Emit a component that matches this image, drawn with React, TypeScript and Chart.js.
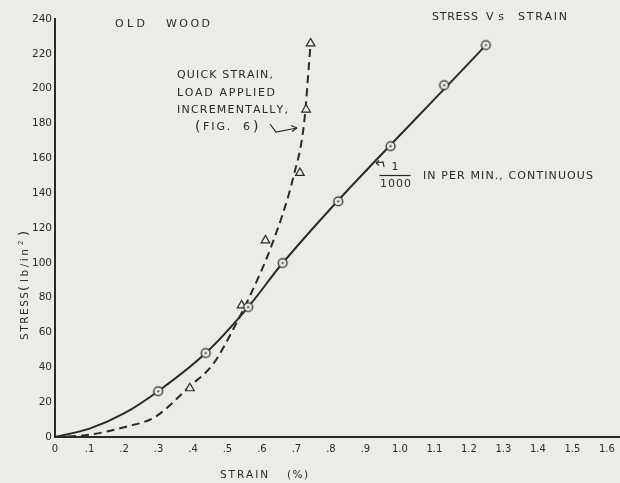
import React, { useEffect, useRef } from 'react';
import { Chart, registerables } from 'chart.js';

Chart.register(...registerables);

// ---- Data ----
// 1/1000 in per min, continuous (solid curve, circle markers)
const contCurveStrain = [0, 0.1, 0.2, 0.299, 0.437, 0.56, 0.66, 1.249];
const contCurveStress = [0, 4.8, 13.5, 26.3, 48.2, 74.6, 99.9, 225];
const contStrain = [0.299, 0.437, 0.56, 0.66, 0.821, 0.973, 1.128, 1.249];
const contStress = [26.3, 48.2, 74.6, 99.9, 135.3, 167, 202, 225];

// Quick strain, load applied incrementally (dashed curve, triangle markers)
const quickCurveStrain = [0, 0.1, 0.2, 0.29, 0.39, 0.459, 0.517, 0.565, 0.628, 0.692, 0.722, 0.741];
const quickCurveStress = [0, 1.3, 5.6, 11.5, 29, 42, 62, 81, 110, 150, 180, 226];
const quickStrain = [0.391, 0.541, 0.61, 0.71, 0.728, 0.741];
const quickStress = [28, 75.6, 112.9, 151.6, 188, 226];

// Tick values / labels
const xTickValues = [0, 0.1, 0.2, 0.3, 0.4, 0.5, 0.6, 0.7, 0.8, 0.9, 1.0, 1.1, 1.2, 1.3, 1.4, 1.5, 1.6];
const xTickLabels = ['0', '.1', '.2', '.3', '.4', '.5', '.6', '.7', '.8', '.9', '1.0', '1.1', '1.2', '1.3', '1.4', '1.5', '1.6'];
const yTickValues = [0, 20, 40, 60, 80, 100, 120, 140, 160, 180, 200, 220, 240];
const yTickLabels = ['0', '20', '40', '60', '80', '100', '120', '140', '160', '180', '200', '220', '240'];

const PAPER = '#ecebe8';
const INK = '#2a2a2a';
const FONT = '"DejaVu Sans", "Noto Sans", sans-serif';

function pts(xs: number[], ys: number[]) {
  return xs.map((x, i) => ({ x, y: ys[i] }));
}

function drawSpaced(ctx: CanvasRenderingContext2D, text: string, x: number, y: number, width: number, size: number) {
  ctx.font = `${size}px ${FONT}`;
  const chars = Array.from(text);
  const ws = chars.map((c) => ctx.measureText(c).width);
  const total = ws.reduce((a, b) => a + b, 0);
  const gap = chars.length > 1 ? (width - total) / (chars.length - 1) : 0;
  let cx = x;
  chars.forEach((c, i) => {
    ctx.fillText(c, cx, y);
    cx += ws[i] + gap;
  });
}

function makeCircleMarker(): HTMLCanvasElement {
  const c = document.createElement('canvas');
  c.width = 13;
  c.height = 13;
  const g = c.getContext('2d')!;
  g.fillStyle = PAPER;
  g.strokeStyle = INK;
  g.lineWidth = 1.3;
  g.beginPath();
  g.arc(6.5, 6.5, 4.4, 0, Math.PI * 2);
  g.fill();
  g.stroke();
  g.fillStyle = INK;
  g.beginPath();
  g.arc(6.5, 6.5, 1.1, 0, Math.PI * 2);
  g.fill();
  return c;
}

const annotPlugin = {
  id: 'annot',
  beforeDraw(chart: any) {
    const ctx = chart.ctx as CanvasRenderingContext2D;
    ctx.save();
    ctx.fillStyle = PAPER;
    ctx.fillRect(0, 0, chart.width, chart.height);
    ctx.restore();
  },
  afterDraw(chart: any) {
    const ctx = chart.ctx as CanvasRenderingContext2D;
    ctx.save();
    ctx.fillStyle = INK;
    ctx.strokeStyle = INK;
    ctx.textAlign = 'left';
    ctx.textBaseline = 'middle';

    // Titles
    drawSpaced(ctx, 'OLD', 115, 24, 30, 11);
    drawSpaced(ctx, 'WOOD', 166, 24, 44, 11);
    drawSpaced(ctx, 'STRESS', 432, 17, 46, 11);
    drawSpaced(ctx, 'Vs', 486, 17, 18, 11);
    drawSpaced(ctx, 'STRAIN', 518, 17, 49, 11);

    // Quick strain note
    drawSpaced(ctx, 'QUICK STRAIN,', 177, 75, 96, 11);
    drawSpaced(ctx, 'LOAD APPLIED', 177, 93, 98, 11);
    drawSpaced(ctx, 'INCREMENTALLY,', 177, 110, 111, 11);
    drawSpaced(ctx, '(', 195, 127, 4, 14);
    drawSpaced(ctx, 'FIG.  6', 203, 127, 47, 11);
    drawSpaced(ctx, ')', 253, 127, 4, 14);

    // Arrow to dashed curve
    ctx.lineWidth = 1.2;
    ctx.beginPath();
    ctx.moveTo(270, 124);
    ctx.lineTo(276, 132);
    ctx.lineTo(297, 128);
    ctx.stroke();
    ctx.beginPath();
    ctx.moveTo(297, 128);
    ctx.lineTo(291, 125.5);
    ctx.moveTo(297, 128);
    ctx.lineTo(292, 131.5);
    ctx.stroke();

    // Continuous note: fraction + text
    ctx.textAlign = 'center';
    ctx.font = `11px ${FONT}`;
    ctx.fillText('1', 395, 167);
    ctx.textAlign = 'left';
    ctx.lineWidth = 1.2;
    ctx.beginPath();
    ctx.moveTo(379.5, 175.5);
    ctx.lineTo(410.5, 175.5);
    ctx.stroke();
    drawSpaced(ctx, '1000', 380, 184, 31, 11);
    drawSpaced(ctx, 'IN PER MIN., CONTINUOUS', 423, 176.5, 170, 11);

    // small hook arrow
    ctx.beginPath();
    ctx.moveTo(384, 167);
    ctx.lineTo(383, 162);
    ctx.lineTo(376, 163);
    ctx.stroke();
    ctx.beginPath();
    ctx.moveTo(376, 163);
    ctx.lineTo(379, 160.5);
    ctx.moveTo(376, 163);
    ctx.lineTo(379, 165.5);
    ctx.stroke();

    // X axis title
    drawSpaced(ctx, 'STRAIN', 220, 475, 48, 10.5);
    drawSpaced(ctx, '(%)', 287, 475, 21, 10.5);

    // Y axis title (rotated)
    ctx.save();
    ctx.translate(25, 340);
    ctx.rotate(-Math.PI / 2);
    ctx.textBaseline = 'middle';
    drawSpaced(ctx, 'STRESS', 0, 0, 48, 10.5);
    drawSpaced(ctx, '(', 49, 0, 4, 13);
    drawSpaced(ctx, 'lb/in', 58, 0, 33, 10.5);
    drawSpaced(ctx, '2', 95, -4, 4, 7);
    drawSpaced(ctx, ')', 104, 0, 4, 13);
    ctx.restore();

    ctx.restore();
  },
};

export default function App() {
  const canvasRef = useRef<HTMLCanvasElement | null>(null);

  useEffect(() => {
    const canvas = canvasRef.current;
    if (!canvas) return;
    const circleMarker = makeCircleMarker();

    const chart = new Chart(canvas, {
      type: 'line',
      data: {
        datasets: [
          {
            label: 'continuous markers',
            data: pts(contStrain, contStress),
            showLine: false,
            pointStyle: circleMarker as any,
            pointRadius: 6,
            order: 0,
          },
          {
            label: 'quick markers',
            data: pts(quickStrain, quickStress),
            showLine: false,
            pointStyle: 'triangle',
            pointRadius: 5,
            pointBorderWidth: 1.2,
            pointBorderColor: INK,
            pointBackgroundColor: PAPER,
            order: 0,
          },
          {
            label: '1/1000 in per min., continuous',
            data: pts(contCurveStrain, contCurveStress),
            borderColor: INK,
            borderWidth: 2,
            pointRadius: 0,
            fill: false,
            cubicInterpolationMode: 'monotone',
            order: 1,
          },
          {
            label: 'quick strain, load applied incrementally',
            data: pts(quickCurveStrain, quickCurveStress),
            borderColor: INK,
            borderWidth: 2,
            borderDash: [8, 5],
            pointRadius: 0,
            fill: false,
            cubicInterpolationMode: 'monotone',
            order: 1,
          },
        ],
      },
      options: {
        responsive: false,
        animation: false,
        events: [],
        layout: { autoPadding: false, padding: { top: 19, right: 0, left: 0, bottom: 0 } },
        plugins: {
          legend: { display: false },
          tooltip: { enabled: false },
        },
        scales: {
          x: {
            type: 'linear',
            min: 0,
            max: 1.638,
            grid: { display: false, drawTicks: false, drawOnChartArea: false },
            border: { display: true, color: INK, width: 2 },
            afterBuildTicks: (scale: any) => {
              scale.ticks = xTickValues.map((v) => ({ value: v }));
            },
            afterFit: (scale: any) => {
              scale.height = 46;
              scale.paddingRight = 0;
              scale.paddingLeft = 0;
            },
            ticks: {
              padding: 6,
              color: INK,
              font: { family: FONT, size: 10 },
              maxRotation: 0,
              autoSkip: false,
              callback: (_v: any, i: number) => xTickLabels[i],
            },
          },
          y: {
            type: 'linear',
            min: 0,
            max: 240,
            grid: { display: false, drawTicks: false, drawOnChartArea: false },
            border: { display: true, color: INK, width: 2 },
            afterBuildTicks: (scale: any) => {
              scale.ticks = yTickValues.map((v) => ({ value: v }));
            },
            afterFit: (scale: any) => {
              scale.width = 55;
            },
            ticks: {
              padding: 3,
              color: INK,
              font: { family: FONT, size: 10.5 },
              autoSkip: false,
              callback: (_v: any, i: number) => yTickLabels[i],
            },
          },
        },
      },
      plugins: [annotPlugin],
    });

    return () => chart.destroy();
  }, []);

  return (
    <div style={{ position: 'fixed', left: 0, top: 0, width: 620, height: 483, background: PAPER }}>
      <canvas ref={canvasRef} width={620} height={483} style={{ display: 'block' }} />
    </div>
  );
}
